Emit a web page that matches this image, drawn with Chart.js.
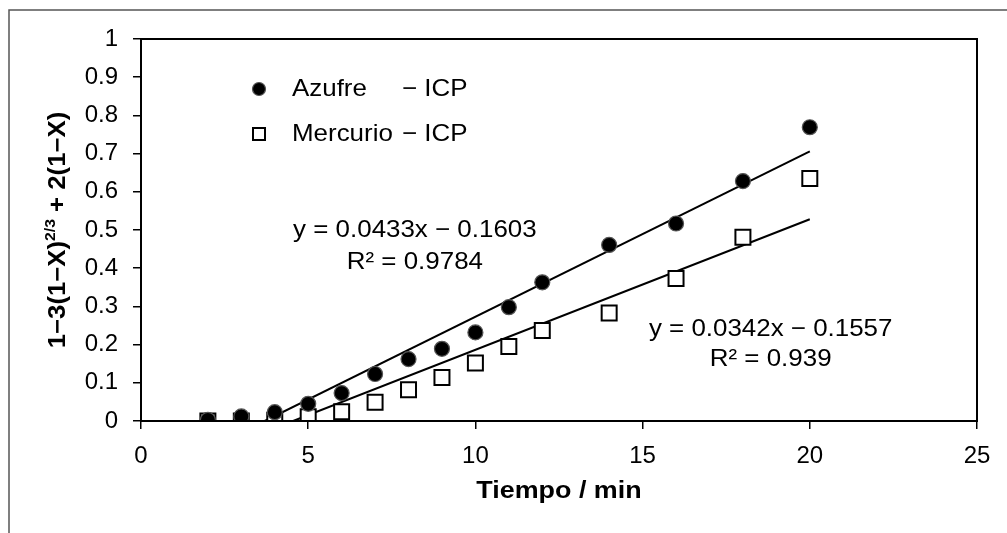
<!DOCTYPE html>
<html>
<head>
<meta charset="utf-8">
<script src="https://cdn.jsdelivr.net/npm/chart.js@4.4.0/dist/chart.umd.min.js"></script>
<style>
  html, body { margin: 0; padding: 0; background: #fff; }
  canvas { display: block; }
</style>
</head>
<body>
<canvas id="chart" width="1007" height="533"></canvas>
<script>
// data
const tiempo = [2, 3, 4, 5, 6, 7, 8, 9, 10, 11, 12, 14, 16, 18, 20];
const azufre = [0.003, 0.012, 0.023, 0.045, 0.073, 0.123, 0.162, 0.189, 0.232, 0.298, 0.363, 0.461, 0.517, 0.628, 0.769];
const mercurio = [0.000, 0.000, 0.002, 0.011, 0.024, 0.049, 0.082, 0.114, 0.152, 0.195, 0.237, 0.283, 0.373, 0.481, 0.635];

// trendline end points
const azufreFitX = [3.70, 20];
const azufreFitY = [0, 0.706];
const mercurioFitX = [4.55, 20];
const mercurioFitY = [0, 0.528];

const xTicks = [0, 5, 10, 15, 20, 25];
const yTicks = [0, 0.1, 0.2, 0.3, 0.4, 0.5, 0.6, 0.7, 0.8, 0.9, 1];

const seriesNames = ['Azufre', 'Mercurio'];
const seriesSuffix = '\u2212 ICP';
const azufreFitText = ['y = 0.0433x \u2212 0.1603', 'R\u00b2 = 0.9784'];
const mercurioFitText = ['y = 0.0342x \u2212 0.1557', 'R\u00b2 = 0.939'];
const xTitle = 'Tiempo / min';
const yTitle = ['1\u22123(1\u2212X)', '2/3', ' + 2(1\u2212X)'];

const FONT = '"Liberation Sans", Arial, sans-serif';

function pts(xs, ys) {
    return xs.map((x, i) => ({ x: x, y: ys[i] }));
}

function wideText(ctx, str, x, y, font, align, stretch) {
    ctx.save();
    ctx.font = font;
    ctx.translate(x, y);
    ctx.scale(stretch || 1.08, 1);
    ctx.textAlign = align || 'center';
    ctx.textBaseline = 'middle';
    ctx.fillText(str, 0, 0);
    ctx.restore();
}

const decor = {
    id: 'decor',
    beforeDraw(chart) {
        let ctx = chart.ctx;
        ctx.save();
        ctx.fillStyle = '#fff';
        ctx.fillRect(0, 0, chart.width, chart.height);
        // outer frame (top and left only)
        ctx.strokeStyle = '#555';
        ctx.lineWidth = 1.5;
        ctx.beginPath();
        ctx.moveTo(9, 533);
        ctx.lineTo(9, 10);
        ctx.lineTo(1007, 10);
        ctx.stroke();
        ctx.restore();
    },
    afterDraw(chart) {
        let ctx = chart.ctx;
        let a = chart.chartArea;
        let xs = chart.scales.x, ys = chart.scales.y;
        ctx.save();

        // plot box
        ctx.strokeStyle = '#000';
        ctx.lineWidth = 2;
        ctx.strokeRect(a.left, a.top, a.right - a.left, a.bottom - a.top);

        // legend
        let rowY = [89, 134];
        let mx = 259, tx = 292, sx = 402;
        ctx.beginPath();
        ctx.arc(mx, rowY[0], 6.5, 0, Math.PI * 2);
        ctx.fillStyle = '#000';
        ctx.fill();
        ctx.strokeStyle = '#555';
        ctx.lineWidth = 1.2;
        ctx.stroke();
        ctx.fillStyle = '#fff';
        ctx.fillRect(mx - 6, rowY[1] - 6, 12, 12);
        ctx.strokeStyle = '#000';
        ctx.lineWidth = 2;
        ctx.strokeRect(mx - 6, rowY[1] - 6, 12, 12);
        ctx.fillStyle = '#000';
        let f = '24px ' + FONT;
        seriesNames.forEach((n, i) => {
            wideText(ctx, n, tx, rowY[i], f, 'left');
            wideText(ctx, seriesSuffix, sx, rowY[i], f, 'left');
        });

        // trendline equations
        let ax = xs.getPixelForValue(8.19);
        wideText(ctx, azufreFitText[0], ax, ys.getPixelForValue(0.499), f);
        wideText(ctx, azufreFitText[1], ax, ys.getPixelForValue(0.415), f);
        let bx = xs.getPixelForValue(18.83);
        wideText(ctx, mercurioFitText[0], bx, ys.getPixelForValue(0.239), f);
        wideText(ctx, mercurioFitText[1], bx, ys.getPixelForValue(0.161), f);

        // axis titles
        let bold = 'bold 23px ' + FONT;
        wideText(ctx, xTitle, (a.left + a.right) / 2, 491, 'bold 24px ' + FONT, 'center', 1.12);

        ctx.save();
        ctx.translate(59, (a.top + a.bottom) / 2);
        ctx.rotate(-Math.PI / 2);
        ctx.scale(1.12, 1);
        ctx.textBaseline = 'middle';
        ctx.textAlign = 'left';
        let supFont = 'bold 14px ' + FONT;
        ctx.font = bold;
        let w1 = ctx.measureText(yTitle[0]).width;
        let w3 = ctx.measureText(yTitle[2]).width;
        ctx.font = supFont;
        let w2 = ctx.measureText(yTitle[1]).width;
        let x0 = -(w1 + w2 + w3) / 2;
        ctx.font = bold;
        ctx.fillText(yTitle[0], x0, 0);
        ctx.font = supFont;
        ctx.fillText(yTitle[1], x0 + w1, -8);
        ctx.font = bold;
        ctx.fillText(yTitle[2], x0 + w1 + w2, 0);
        ctx.restore();

        ctx.restore();
    }
};

new Chart(document.getElementById('chart'), {
    type: 'scatter',
    data: {
        datasets: [
            {
                label: seriesNames[0],
                data: pts(tiempo, azufre),
                pointStyle: 'circle',
                pointRadius: 7.5,
                pointBackgroundColor: '#000',
                pointBorderColor: '#555',
                pointBorderWidth: 1.2,
                showLine: false,
                order: 0
            },
            {
                label: seriesNames[1],
                data: pts(tiempo, mercurio),
                pointStyle: 'rect',
                pointRadius: 10.6,
                pointBackgroundColor: '#fff',
                pointBorderColor: '#000',
                pointBorderWidth: 2,
                showLine: false,
                order: 1
            },
            {
                label: 'fit azufre',
                data: pts(azufreFitX, azufreFitY),
                showLine: true,
                borderColor: '#000',
                borderWidth: 2,
                pointRadius: 0,
                order: 2
            },
            {
                label: 'fit mercurio',
                data: pts(mercurioFitX, mercurioFitY),
                showLine: true,
                borderColor: '#000',
                borderWidth: 2,
                pointRadius: 0,
                order: 3
            }
        ]
    },
    options: {
        responsive: false,
        devicePixelRatio: 1,
        animation: false,
        layout: { padding: { left: 0, top: 39, right: 30, bottom: 0 } },
        plugins: {
            legend: { display: false },
            tooltip: { enabled: false }
        },
        scales: {
            x: {
                type: 'linear',
                min: 0,
                max: 25,
                afterBuildTicks: s => { s.ticks = xTicks.map(v => ({ value: v })); },
                afterFit: s => { s.height = 112; },
                grid: { drawOnChartArea: false, drawTicks: true, tickLength: 8, color: '#000', lineWidth: 1.5 },
                border: { color: '#000', width: 2 },
                ticks: { color: '#000', font: { family: FONT, size: 24 }, padding: 13, maxRotation: 0 }
            },
            y: {
                type: 'linear',
                min: 0,
                max: 1,
                afterBuildTicks: s => { s.ticks = yTicks.map(v => ({ value: v })); },
                afterFit: s => { s.width = 141; },
                grid: { drawOnChartArea: false, drawTicks: true, tickLength: 8, color: '#000', lineWidth: 1.5 },
                border: { color: '#000', width: 2 },
                ticks: {
                    color: '#000',
                    font: { family: FONT, size: 24 },
                    padding: 15,
                    callback: v => String(Number(v.toFixed(1)))
                }
            }
        }
    },
    plugins: [decor]
});
</script>
</body>
</html>
